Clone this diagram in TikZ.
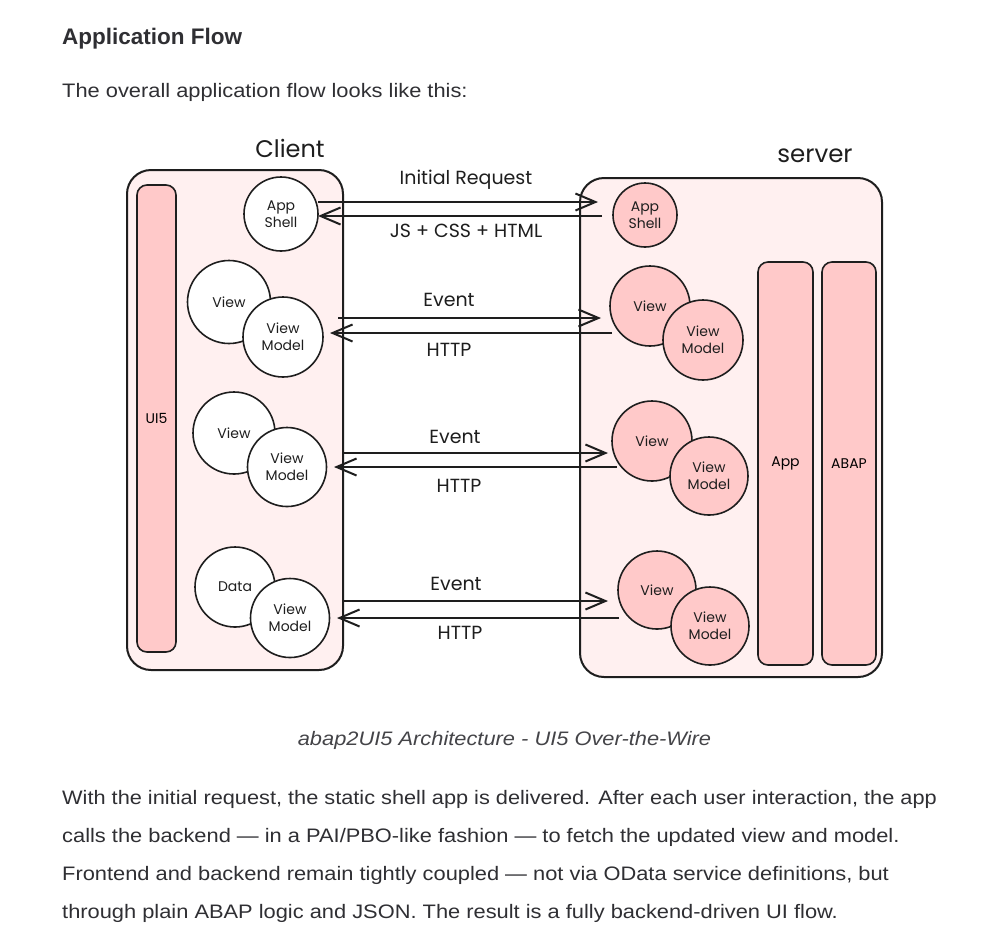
\documentclass[tikz,border=0pt]{standalone}
\usepackage{fontspec}
\setmainfont{Liberation Sans}
\newfontfamily\hand{Poppins}
\usetikzlibrary{arrows.meta}
\definecolor{ink}{HTML}{1E1E1E}
\definecolor{boxbg}{HTML}{FFF0F0}
\definecolor{pinkf}{HTML}{FFC9C9}
\definecolor{txt}{HTML}{2F2F33}
\definecolor{captxt}{HTML}{444448}
\newcommand{\wide}[1]{\scalebox{1.12}[1]{#1}}
\tikzset{
  container/.style={draw=ink, line width=2pt, fill=boxbg, rounded corners=24pt, rectangle, inner sep=0pt},
  bar/.style={draw=ink, line width=1.6pt, fill=pinkf, rounded corners=10pt, rectangle, inner sep=0pt},
  cwhite/.style={draw=ink, line width=1.6pt, fill=white, circle, inner sep=0pt, align=center, font=\hand\fontsize{14}{17}\selectfont, text=ink},
  cpink/.style={draw=ink, line width=1.6pt, fill=pinkf, circle, inner sep=0pt, align=center, font=\hand\fontsize{14}{17}\selectfont, text=ink},
  flow/.style={draw=ink, line width=2pt, -{Straight Barb[length=20pt,width=17pt,line width=2pt]}},
  lbl/.style={font=\hand\fontsize{19}{21}\selectfont, text=ink},
  body/.style={anchor=west, inner sep=0pt, font=\fontsize{19.5}{22}\selectfont, text=txt}
}
\begin{document}
\begin{tikzpicture}[x=1pt,y=-1pt]
\useasboundingbox[fill=white] (0,0) rectangle (1000,938);

% header texts
\node[anchor=west, inner sep=0pt, font=\bfseries\fontsize{22.5}{26}\selectfont, text=txt] (head) at (62,39) {Application Flow};
\node[body] (intro) at (62,92) {\wide{The overall application flow looks like this:}};

% containers
\node[container, minimum width=216pt, minimum height=500pt] (client) at (235,420) {};
\node[container, minimum width=302pt, minimum height=499pt] (server) at (731,427.5) {};
\node[font=\hand\fontsize{24}{26}\selectfont, text=ink] (clientlbl) at (290,148) {Client};
\node[font=\hand\fontsize{24.5}{26}\selectfont, text=ink] (serverlbl) at (815,156) {server};

% bars
\node[bar, minimum width=39pt, minimum height=467pt, font=\hand\fontsize{14}{15}\selectfont] (ui5) at (156.5,418.5) {UI5};
\node[bar, minimum width=55pt, minimum height=403pt, font=\hand\fontsize{14}{15}\selectfont] (app) at (785.5,463.5) {App};
\node[bar, minimum width=54pt, minimum height=403pt, font=\hand\fontsize{14}{15}\selectfont] (abap) at (849,463.5) {ABAP};

% client circles
\node[cwhite, minimum size=74pt] (cshell) at (281,214) {App\\Shell};
\node[cwhite, minimum size=83pt] (cview1) at (229,302) {View};
\node[cwhite, minimum size=80pt] (cvm1) at (283,337) {View\\Model};
\node[cwhite, minimum size=82pt] (cview2) at (234,433) {View};
\node[cwhite, minimum size=79pt] (cvm2) at (287,467) {View\\Model};
\node[cwhite, minimum size=80pt] (cdata) at (235,587) {Data};
\node[cwhite, minimum size=79pt] (cvm3) at (290,618) {View\\Model};

% server circles
\node[cpink, minimum size=64pt] (sshell) at (645,215) {App\\Shell};
\node[cpink, minimum size=80pt] (sview1) at (650,306) {View};
\node[cpink, minimum size=80pt] (svm1) at (703,340) {View\\Model};
\node[cpink, minimum size=80pt] (sview2) at (652,441) {View};
\node[cpink, minimum size=78pt] (svm2) at (709,476) {View\\Model};
\node[cpink, minimum size=78pt] (sview3) at (657,590) {View};
\node[cpink, minimum size=78pt] (svm3) at (710,626) {View\\Model};

% connector end points
\coordinate (r0a) at (318,202); \coordinate (r0b) at (598,202);
\coordinate (r0c) at (602,216); \coordinate (r0d) at (318,216);
\coordinate (r1a) at (338,318); \coordinate (r1b) at (601,318);
\coordinate (r1c) at (612,333); \coordinate (r1d) at (330,333);
\coordinate (r2a) at (343,453); \coordinate (r2b) at (608,453);
\coordinate (r2c) at (617,467); \coordinate (r2d) at (334,467);
\coordinate (r3a) at (343,601); \coordinate (r3b) at (608,601);
\coordinate (r3c) at (619,618); \coordinate (r3d) at (337,618);

\draw[flow] (r0a) -- (r0b);
\draw[flow] (r0c) -- (r0d);
\draw[flow] (r1a) -- (r1b);
\draw[flow] (r1c) -- (r1d);
\draw[flow] (r2a) -- (r2b);
\draw[flow] (r2c) -- (r2d);
\draw[flow] (r3a) -- (r3b);
\draw[flow] (r3c) -- (r3d);

\node[lbl] (l0a) at (466,180) {Initial Request};
\node[lbl] (l0b) at (466,231) {JS + CSS + HTML};
\node[lbl] (l1a) at (449,300) {Event};
\node[lbl] (l1b) at (449,350) {HTTP};
\node[lbl] (l2a) at (455,437) {Event};
\node[lbl] (l2b) at (459,486) {HTTP};
\node[lbl] (l3a) at (456,584) {Event};
\node[lbl] (l3b) at (460,633) {HTTP};

% caption
\node[font=\itshape\fontsize{19.5}{22}\selectfont, text=captxt] (caption) at (504.5,740) {\wide{abap2UI5 Architecture - UI5 Over-the-Wire}};

% body paragraph
\node[body] (p1) at (62,799) {\scalebox{1.115}[1]{With the initial request, the static shell app is delivered. After each user interaction, the app}};
\node[body] (p2) at (62,837) {\wide{calls the backend — in a PAI/PBO-like fashion — to fetch the updated view and model.}};
\node[body] (p3) at (62,875) {\wide{Frontend and backend remain tightly coupled — not via OData service definitions, but}};
\node[body] (p4) at (62,913) {\wide{through plain ABAP logic and JSON. The result is a fully backend-driven UI flow.}};
\end{tikzpicture}
\end{document}
